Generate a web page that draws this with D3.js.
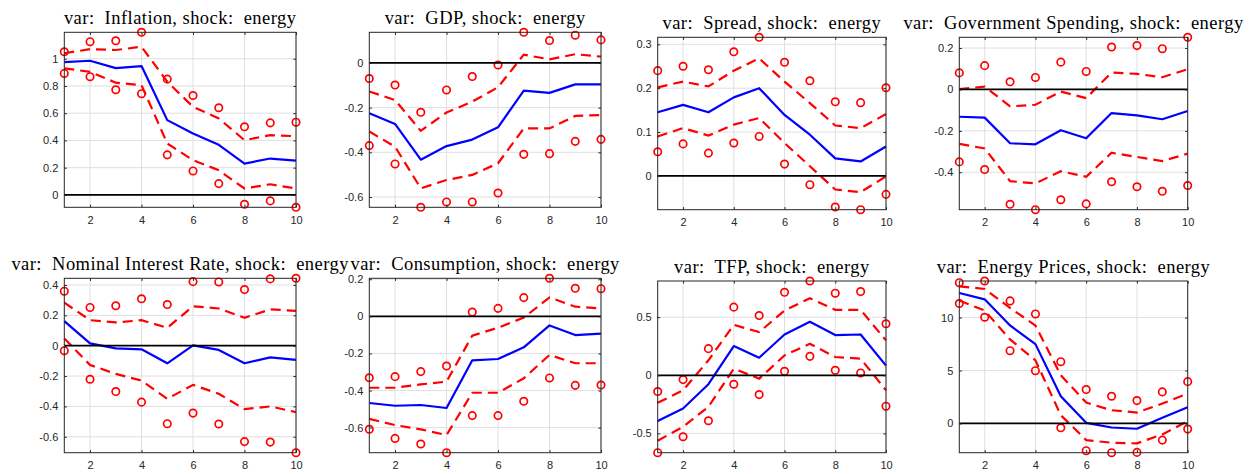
<!DOCTYPE html>
<html>
<head>
<meta charset="utf-8">
<script src="https://cdn.jsdelivr.net/npm/d3@7"></script>
<style>
  html, body { margin: 0; padding: 0; background: #fff; }
  svg { display: block; }
</style>
</head>
<body>
<svg id="chart" width="1253" height="474"></svg>
<script>
// ---- data -------------------------------------------------------------
const horizons = [1, 2, 3, 4, 5, 6, 7, 8, 9, 10];
const xTicks = [2, 4, 6, 8, 10];
const shockName = "energy";
const varNames = ["Inflation", "GDP", "Spread", "Government Spending",
                  "Nominal Interest Rate", "Consumption", "TFP", "Energy Prices"];

// median response, 68% band (upper / lower), 90% band (upper / lower)
const inflationMed   = [0.975, 0.985, 0.931, 0.946, 0.549, 0.451, 0.368, 0.230, 0.267, 0.252];
const inflationHi68  = [1.040, 1.070, 1.064, 1.088, 0.831, 0.647, 0.561, 0.402, 0.439, 0.431];
const inflationLo68  = [0.929, 0.904, 0.824, 0.806, 0.377, 0.255, 0.181, 0.047, 0.078, 0.047];
const inflationHi90  = [1.051, 1.125, 1.132, 1.194, 0.850, 0.730, 0.640, 0.500, 0.529, 0.534];
const inflationLo90  = [0.892, 0.868, 0.772, 0.743, 0.294, 0.176, 0.083, -0.069, -0.044, -0.091];
const inflationTicks = [0, 0.2, 0.4, 0.6, 0.8, 1];

const gdpMed   = [-0.225, -0.273, -0.433, -0.372, -0.343, -0.288, -0.124, -0.134, -0.096, -0.096];
const gdpHi68  = [-0.128, -0.166, -0.304, -0.222, -0.173, -0.109, 0.037, 0.016, 0.039, 0.028];
const gdpLo68  = [-0.307, -0.375, -0.561, -0.524, -0.501, -0.449, -0.293, -0.293, -0.237, -0.233];
const gdpHi90  = [-0.070, -0.099, -0.221, -0.121, -0.061, -0.009, 0.137, 0.100, 0.124, 0.103];
const gdpLo90  = [-0.370, -0.452, -0.646, -0.622, -0.622, -0.582, -0.409, -0.406, -0.351, -0.342];
const gdpTicks = [-0.6, -0.4, -0.2, 0];

const spreadMed   = [0.145, 0.162, 0.145, 0.179, 0.200, 0.139, 0.094, 0.040, 0.033, 0.067];
const spreadHi68  = [0.202, 0.215, 0.204, 0.240, 0.268, 0.215, 0.166, 0.115, 0.109, 0.141];
const spreadLo68  = [0.090, 0.109, 0.092, 0.117, 0.132, 0.075, 0.022, -0.031, -0.037, -0.001];
const spreadHi90  = [0.240, 0.250, 0.242, 0.283, 0.316, 0.259, 0.217, 0.169, 0.167, 0.201];
const spreadLo90  = [0.055, 0.073, 0.052, 0.075, 0.090, 0.027, -0.020, -0.071, -0.077, -0.042];
const spreadTicks = [0, 0.1, 0.2, 0.3];

const govMed   = [-0.132, -0.136, -0.260, -0.265, -0.197, -0.236, -0.114, -0.125, -0.144, -0.104];
const govHi68  = [0.002, 0.014, -0.082, -0.074, -0.010, -0.042, 0.082, 0.075, 0.059, 0.098];
const govLo68  = [-0.263, -0.285, -0.443, -0.454, -0.395, -0.422, -0.306, -0.326, -0.346, -0.310];
const govHi90  = [0.080, 0.115, 0.037, 0.058, 0.132, 0.087, 0.205, 0.212, 0.197, 0.252];
const govLo90  = [-0.350, -0.387, -0.555, -0.581, -0.533, -0.553, -0.446, -0.470, -0.492, -0.464];
const govTicks = [-0.4, -0.2, 0, 0.2];

const rateMed   = [0.162, 0.015, -0.018, -0.024, -0.116, 0.002, -0.028, -0.116, -0.077, -0.094];
const rateHi68  = [0.284, 0.168, 0.153, 0.168, 0.118, 0.260, 0.245, 0.184, 0.239, 0.230];
const rateLo68  = [0.048, -0.127, -0.186, -0.230, -0.350, -0.258, -0.317, -0.418, -0.400, -0.438];
const rateHi90  = [0.359, 0.252, 0.263, 0.309, 0.271, 0.422, 0.420, 0.370, 0.440, 0.444];
const rateLo90  = [-0.033, -0.221, -0.302, -0.372, -0.514, -0.444, -0.516, -0.632, -0.635, -0.705];
const rateTicks = [-0.6, -0.4, -0.2, 0, 0.2, 0.4];

const consMed   = [-0.467, -0.482, -0.478, -0.494, -0.237, -0.230, -0.167, -0.049, -0.101, -0.093];
const consHi68  = [-0.385, -0.385, -0.367, -0.352, -0.104, -0.061, -0.007, 0.102, 0.052, 0.043];
const consLo68  = [-0.553, -0.586, -0.609, -0.640, -0.412, -0.412, -0.334, -0.208, -0.253, -0.253];
const consHi90  = [-0.331, -0.325, -0.298, -0.268, 0.023, 0.043, 0.101, 0.205, 0.151, 0.149];
const consLo90  = [-0.609, -0.658, -0.688, -0.735, -0.535, -0.535, -0.458, -0.332, -0.372, -0.370];
const consTicks = [-0.6, -0.4, -0.2, 0, 0.2];

const tfpMed   = [-0.394, -0.286, -0.077, 0.251, 0.151, 0.351, 0.460, 0.346, 0.351, 0.083];
const tfpHi68  = [-0.237, -0.129, 0.129, 0.434, 0.371, 0.557, 0.663, 0.563, 0.563, 0.300];
const tfpLo68  = [-0.563, -0.443, -0.271, 0.057, -0.029, 0.171, 0.271, 0.157, 0.143, -0.129];
const tfpHi90  = [-0.140, -0.037, 0.229, 0.586, 0.514, 0.714, 0.811, 0.706, 0.720, 0.443];
const tfpLo90  = [-0.666, -0.529, -0.391, -0.077, -0.166, 0.034, 0.163, 0.043, 0.020, -0.266];
const tfpTicks = [-0.5, 0, 0.5];

const energyMed   = [12.32, 11.72, 9.25, 7.49, 2.57, 0.06, -0.38, -0.50, 0.53, 1.54];
const energyHi68  = [12.95, 12.70, 10.91, 9.25, 4.55, 1.97, 1.25, 1.03, 1.88, 2.82];
const energyLo68  = [11.60, 10.66, 7.93, 5.96, 0.78, -1.57, -1.82, -1.88, -1.03, 0.22];
const energyHi90  = [13.29, 13.45, 11.57, 10.34, 5.83, 3.20, 2.57, 2.16, 2.98, 3.95];
const energyLo90  = [11.32, 10.03, 6.87, 4.98, -0.41, -2.57, -2.76, -2.73, -1.57, -0.53];
const energyTicks = [0, 5, 10];

// ---- layout (axes boxes in page pixels) --------------------------------
const frames = [
  { x0: 64.3,  x1: 296,    y0: 32.3,  y1: 207.3 },
  { x0: 369.3, x1: 601,    y0: 32.3,  y1: 207.3 },
  { x0: 657.7, x1: 886,    y0: 37.3,  y1: 209.7 },
  { x0: 959.3, x1: 1187.7, y0: 37.3,  y1: 209.7 },
  { x0: 64.3,  x1: 296,    y0: 278.3, y1: 452.7 },
  { x0: 369.3, x1: 601,    y0: 278.3, y1: 452.7 },
  { x0: 657.7, x1: 886,    y0: 281,   y1: 452.7 },
  { x0: 959.3, x1: 1187.7, y0: 281,   y1: 452.7 }
];

const panels = [
  { med: inflationMed, hi68: inflationHi68, lo68: inflationLo68, hi90: inflationHi90, lo90: inflationLo90, ticks: inflationTicks },
  { med: gdpMed,       hi68: gdpHi68,       lo68: gdpLo68,       hi90: gdpHi90,       lo90: gdpLo90,       ticks: gdpTicks },
  { med: spreadMed,    hi68: spreadHi68,    lo68: spreadLo68,    hi90: spreadHi90,    lo90: spreadLo90,    ticks: spreadTicks },
  { med: govMed,       hi68: govHi68,       lo68: govLo68,       hi90: govHi90,       lo90: govLo90,       ticks: govTicks },
  { med: rateMed,      hi68: rateHi68,      lo68: rateLo68,      hi90: rateHi90,      lo90: rateLo90,      ticks: rateTicks },
  { med: consMed,      hi68: consHi68,      lo68: consLo68,      hi90: consHi90,      lo90: consLo90,      ticks: consTicks },
  { med: tfpMed,       hi68: tfpHi68,       lo68: tfpLo68,       hi90: tfpHi90,       lo90: tfpLo90,       ticks: tfpTicks },
  { med: energyMed,    hi68: energyHi68,    lo68: energyLo68,    hi90: energyHi90,    lo90: energyLo90,    ticks: energyTicks }
];

// ---- drawing ----------------------------------------------------------
const svg = d3.select("#chart");
const axisColor = "#262626";
const gridColor = "#dfdfdf";
const tickLen = 2.6;
const fmt = v => String(+v.toFixed(2));

panels.forEach((p, i) => {
  const f = frames[i];
  const allVals = [].concat(p.med, p.hi68, p.lo68, p.hi90, p.lo90);
  const x = d3.scaleLinear().domain(d3.extent(horizons)).range([f.x0, f.x1]);
  const y = d3.scaleLinear().domain(d3.extent(allVals)).range([f.y1, f.y0]);

  const g = svg.append("g");

  // grid
  g.append("g").selectAll("line").data(xTicks).join("line")
    .attr("x1", d => x(d)).attr("x2", d => x(d))
    .attr("y1", f.y0).attr("y2", f.y1)
    .attr("stroke", gridColor).attr("stroke-width", 1);
  g.append("g").selectAll("line").data(p.ticks).join("line")
    .attr("x1", f.x0).attr("x2", f.x1)
    .attr("y1", d => y(d)).attr("y2", d => y(d))
    .attr("stroke", gridColor).attr("stroke-width", 1);

  const line = d3.line().x((d, k) => x(horizons[k])).y(d => y(d));

  // median
  g.append("path").datum(p.med).attr("d", line)
    .attr("fill", "none").attr("stroke", "#0000ff").attr("stroke-width", 2.2)
    .attr("stroke-linejoin", "round");

  // 68% band
  [p.hi68, p.lo68].forEach(s => {
    g.append("path").datum(s).attr("d", line)
      .attr("fill", "none").attr("stroke", "#ff0000").attr("stroke-width", 2.2)
      .attr("stroke-dasharray", "10,6");
  });

  // 90% band markers
  [p.hi90, p.lo90].forEach(s => {
    g.append("g").selectAll("circle").data(s).join("circle")
      .attr("cx", (d, k) => x(horizons[k])).attr("cy", d => y(d))
      .attr("r", 3.7).attr("fill", "none")
      .attr("stroke", "#ff0000").attr("stroke-width", 1.7);
  });

  // zero line
  g.append("line")
    .attr("x1", x(horizons[0])).attr("x2", x(horizons[horizons.length - 1]))
    .attr("y1", y(0)).attr("y2", y(0))
    .attr("stroke", "#000").attr("stroke-width", 1.8);

  // box
  g.append("rect")
    .attr("x", f.x0).attr("y", f.y0)
    .attr("width", f.x1 - f.x0).attr("height", f.y1 - f.y0)
    .attr("fill", "none").attr("stroke", axisColor).attr("stroke-width", 1);

  // axes with inward ticks on all sides
  const styleAxis = sel => {
    sel.select(".domain").remove();
    sel.selectAll(".tick line").attr("stroke", axisColor);
    sel.selectAll(".tick text")
      .attr("fill", axisColor)
      .style("font-family", "'Liberation Sans', Arial, Helvetica, sans-serif")
      .style("font-size", "11px");
  };
  g.append("g").attr("transform", `translate(0,${f.y1})`)
    .call(d3.axisBottom(x).tickValues(xTicks).tickSize(-tickLen).tickPadding(9).tickFormat(fmt))
    .call(styleAxis);
  g.append("g").attr("transform", `translate(0,${f.y0})`)
    .call(d3.axisTop(x).tickValues(xTicks).tickSize(-tickLen).tickFormat(""))
    .call(styleAxis);
  g.append("g").attr("transform", `translate(${f.x0},0)`)
    .call(d3.axisLeft(y).tickValues(p.ticks).tickSize(-tickLen).tickPadding(6).tickFormat(fmt))
    .call(styleAxis);
  g.append("g").attr("transform", `translate(${f.x1},0)`)
    .call(d3.axisRight(y).tickValues(p.ticks).tickSize(-tickLen).tickFormat(""))
    .call(styleAxis);

  // title
  g.append("text")
    .attr("x", (f.x0 + f.x1) / 2).attr("y", f.y0 - 8)
    .attr("text-anchor", "middle")
    .style("font-family", "'Liberation Serif', 'Times New Roman', serif")
    .style("font-size", "18.5px")
    .style("letter-spacing", "0.45px")
    .style("white-space", "pre")
    .attr("fill", "#000")
    .text(`var:  ${varNames[i]}, shock:  ${shockName}`);
});
</script>
</body>
</html>
